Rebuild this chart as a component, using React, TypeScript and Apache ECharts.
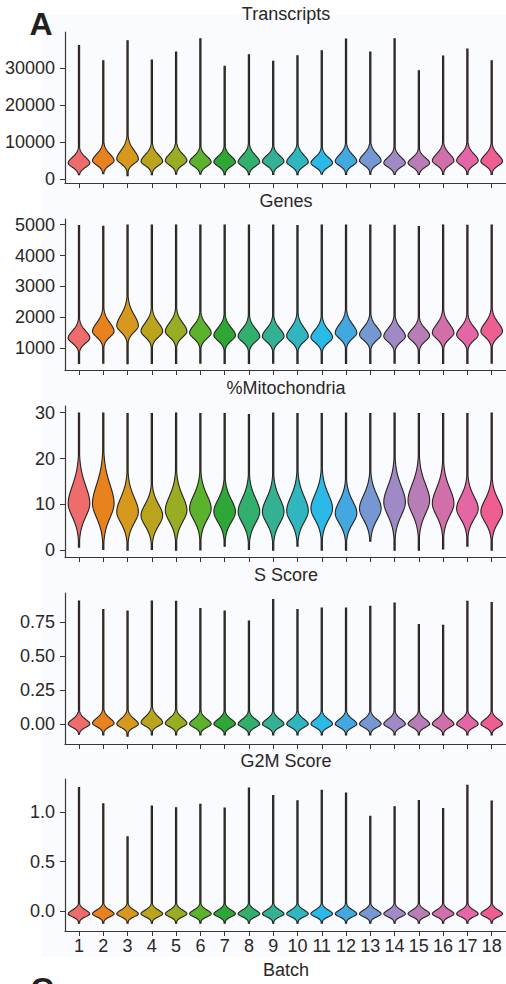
import React, { useEffect, useRef } from "react";
import * as echarts from "echarts";

const batches = [1, 2, 3, 4, 5, 6, 7, 8, 9, 10, 11, 12, 13, 14, 15, 16, 17, 18];
const batchColors = [
  "#EE6C6C", "#E8821E", "#D7991D", "#BBA41D", "#98AD23", "#5CB22D",
  "#2EA737", "#31AF6C", "#34B192", "#30B6BE", "#2BB9E8", "#43A7E0",
  "#7598D3", "#A08AC5", "#B97DB5", "#D06FAA", "#E566A4", "#EE5E93",
];

// Transcripts
const transcriptsMin = [1160, 1430, 890, 1160, 1300, 1300, 1160, 1160, 1200, 1150, 1300, 1250, 1300, 1200, 1200, 1200, 1200, 1250];
const transcriptsMode = [4320, 4950, 5400, 4760, 4950, 4590, 4590, 4590, 4760, 4590, 4320, 4760, 4950, 4320, 4320, 4950, 4950, 4760];
const transcriptsMax = [36100, 31970, 37380, 32160, 34320, 37920, 30430, 33600, 31780, 33320, 34680, 37840, 34320, 37920, 29270, 33240, 35130, 31970];
const transcriptsSpreadUp = [1620, 1890, 2430, 1890, 1890, 1620, 1620, 1890, 1620, 1890, 1620, 1890, 1890, 1620, 1490, 1890, 1890, 1890];
const transcriptsSpreadDown = [1200, 1250, 1300, 1200, 1250, 1200, 1200, 1200, 1200, 1200, 1150, 1200, 1200, 1150, 1150, 1250, 1250, 1200];
const transcriptsTicks = [0, 10000, 20000, 30000];

// Genes
const genesMin = [500, 510, 490, 500, 500, 505, 495, 500, 505, 500, 500, 495, 500, 505, 500, 495, 500, 505];
const genesMode = [1325, 1540, 1720, 1540, 1540, 1490, 1410, 1380, 1380, 1380, 1345, 1490, 1430, 1380, 1400, 1490, 1430, 1540];
const genesMax = [4970, 4950, 4990, 4990, 4990, 4990, 4990, 4990, 4990, 4970, 4990, 4990, 4990, 4980, 4940, 4990, 4980, 4990];
const genesSpreadUp = [240, 290, 370, 290, 290, 260, 260, 260, 260, 290, 260, 290, 260, 260, 230, 290, 260, 290];
const genesSpreadDown = [175, 195, 210, 195, 195, 190, 185, 185, 185, 185, 180, 190, 185, 185, 185, 195, 190, 195];
const genesTicks = [1000, 2000, 3000, 4000, 5000];

// %Mitochondria
const mitoMin = [0.7, 0.2, 0.0, 0.2, 0.0, 0.1, 0.9, 0.2, 0.0, 0.9, 0.0, 0.0, 2.0, 0.0, 0.0, 0.3, 0.9, 0.0];
const mitoMode = [10.2, 10.2, 8.4, 7.6, 8.7, 9.1, 8.4, 8.4, 8.4, 8.6, 9.1, 8.1, 9.1, 10.5, 10.9, 10.2, 9.1, 8.4];
const mitoMax = [29.9, 29.9, 29.8, 29.8, 29.9, 29.8, 29.8, 29.6, 29.9, 29.8, 29.8, 29.9, 29.8, 29.9, 29.8, 29.8, 29.8, 29.9];
const mitoSpreadUp = [4.1, 4.4, 3.3, 2.6, 3.3, 3.1, 2.8, 3.1, 3.1, 3.3, 3.3, 2.8, 3.1, 3.7, 3.7, 3.5, 2.8, 2.8];
const mitoSpreadDown = [3.1, 3.3, 2.6, 2.4, 2.6, 2.6, 2.4, 2.6, 2.6, 2.6, 2.6, 2.4, 2.6, 3.1, 3.1, 2.8, 2.4, 2.4];
const mitoTicks = [0, 10, 20, 30];

// S Score
const sMin = [-0.075, -0.08, -0.09, -0.08, -0.08, -0.08, -0.08, -0.08, -0.08, -0.08, -0.08, -0.08, -0.08, -0.08, -0.08, -0.08, -0.08, -0.08];
const sMode = [0.0, 0.005, 0.0, 0.01, 0.005, 0.0, 0.0, 0.0, 0.0, 0.0, 0.0, 0.0, 0.0, 0.0, 0.0, 0.0, 0.0, 0.0];
const sMax = [0.904, 0.841, 0.831, 0.904, 0.902, 0.849, 0.831, 0.757, 0.915, 0.841, 0.853, 0.853, 0.865, 0.89, 0.731, 0.726, 0.902, 0.893];
const sSpreadUp = [0.037, 0.04, 0.04, 0.045, 0.04, 0.038, 0.037, 0.037, 0.037, 0.037, 0.037, 0.037, 0.037, 0.037, 0.037, 0.037, 0.037, 0.037];
const sSpreadDown = [0.026, 0.026, 0.026, 0.026, 0.026, 0.026, 0.026, 0.026, 0.026, 0.026, 0.026, 0.026, 0.026, 0.026, 0.026, 0.026, 0.026, 0.026];
const sTicks = [0, 0.25, 0.5, 0.75];

// G2M Score
const g2mMin = [-0.125, -0.125, -0.125, -0.125, -0.125, -0.125, -0.125, -0.125, -0.125, -0.125, -0.125, -0.125, -0.125, -0.125, -0.125, -0.125, -0.125, -0.125];
const g2mMode = [-0.03, -0.03, -0.03, -0.03, -0.03, -0.03, -0.03, -0.03, -0.03, -0.03, -0.03, -0.03, -0.03, -0.03, -0.03, -0.03, -0.03, -0.03];
const g2mMax = [1.252, 1.089, 0.752, 1.064, 1.048, 1.082, 1.044, 1.248, 1.173, 1.119, 1.224, 1.197, 0.962, 1.058, 1.122, 1.041, 1.276, 1.115];
const g2mSpreadUp = [0.041, 0.041, 0.041, 0.041, 0.041, 0.041, 0.041, 0.041, 0.041, 0.041, 0.041, 0.041, 0.041, 0.041, 0.041, 0.041, 0.041, 0.041];
const g2mSpreadDown = [0.031, 0.031, 0.031, 0.031, 0.031, 0.031, 0.031, 0.031, 0.031, 0.031, 0.031, 0.031, 0.031, 0.031, 0.031, 0.031, 0.031, 0.031];
const g2mTicks = [0, 0.5, 1.0];

const FONT = "Liberation Sans";
const TEXT = "#2b2724";
const AXIS = "#3a3631";
const OUTLINE = "#26221e";
const HALF_W = 10.8;

type Panel = {
  title: string;
  min: number[]; mode: number[]; max: number[]; up: number[]; down: number[];
  ticks: number[]; yMin: number; yMax: number; top: number; height: number;
  fmt: (v: number) => string;
};

const panels: Panel[] = [
  { title: "Transcripts", min: transcriptsMin, mode: transcriptsMode, max: transcriptsMax, up: transcriptsSpreadUp, down: transcriptsSpreadDown, ticks: transcriptsTicks, yMin: -1080, yMax: 39730, top: 32, height: 151, fmt: (v) => String(v) },
  { title: "Genes", min: genesMin, mode: genesMode, max: genesMax, up: genesSpreadUp, down: genesSpreadDown, ticks: genesTicks, yMin: 286, yMax: 5185, top: 219, height: 151, fmt: (v) => String(v) },
  { title: "%Mitochondria", min: mitoMin, mode: mitoMode, max: mitoMax, up: mitoSpreadUp, down: mitoSpreadDown, ticks: mitoTicks, yMin: -1.46, yMax: 31.46, top: 406, height: 151, fmt: (v) => String(v) },
  { title: "S Score", min: sMin, mode: sMode, max: sMax, up: sSpreadUp, down: sSpreadDown, ticks: sTicks, yMin: -0.147, yMax: 0.963, top: 593, height: 151, fmt: (v) => v.toFixed(2) },
  { title: "G2M Score", min: g2mMin, mode: g2mMode, max: g2mMax, up: g2mSpreadUp, down: g2mSpreadDown, ticks: g2mTicks, yMin: -0.204, yMax: 1.34, top: 779, height: 152, fmt: (v) => v.toFixed(1) },
];

function renderViolin(params: any, api: any) {
  const x = api.value(0);
  const lo = api.value(1);
  const mode = api.value(2);
  const hi = api.value(3);
  const sd = api.value(4);
  const su = api.value(5);
  const pLo = api.coord([x, lo]);
  const pHi = api.coord([x, hi]);
  const cx = pLo[0];
  const yTop = pHi[1];
  const yBot = pLo[1];
  const pxPerUnit = (yBot - yTop) / (hi - lo);
  const n = Math.max(2, Math.ceil((yBot - yTop) / 0.6));
  const right: number[][] = [];
  const left: number[][] = [];
  for (let i = 0; i <= n; i++) {
    const y = yTop + ((yBot - yTop) * i) / n;
    const v = hi - (y - yTop) / pxPerUnit;
    const d = v - mode;
    const u = d / (d >= 0 ? su : sd);
    const f = 0.8 * Math.exp(-0.5 * u * u) + 0.2 / (1 + u * u);
    const hw = Math.max(HALF_W * f, 0.6);
    right.push([cx + hw, y]);
    left.push([cx - hw, y]);
  }
  const points = right.concat(left.reverse());
  return {
    type: "polygon",
    shape: { points },
    style: { fill: batchColors[params.dataIndex], stroke: OUTLINE, lineWidth: 1.1 },
  };
}

export default function App() {
  const ref = useRef<HTMLDivElement>(null);
  useEffect(() => {
    if (!ref.current) return;
    const chart = echarts.init(ref.current, null, { renderer: "svg" });
    const grids: any[] = [];
    const xAxes: any[] = [];
    const yAxes: any[] = [];
    const series: any[] = [];
    const graphics: any[] = [
      { type: "rect", z: -100, silent: true, shape: { x: 41, y: 15, width: 465, height: 942 }, style: { fill: "#f9fbfe" } },
      { type: "text", x: 41, y: 24, style: { text: "A", fontSize: 32, fontWeight: "bold", fontFamily: FONT, fill: "#231f1c", align: "center", verticalAlign: "middle" } },
      { type: "text", x: 42, y: 989, style: { text: "C", fontSize: 32, fontWeight: "bold", fontFamily: FONT, fill: "#231f1c", align: "center", verticalAlign: "middle" } },
      { type: "text", x: 286, y: 970, style: { text: "Batch", fontSize: 18, fontFamily: FONT, fill: TEXT, align: "center", verticalAlign: "middle" } },
    ];
    panels.forEach((p, i) => {
      const last = i === panels.length - 1;
      grids.push({ left: 65, width: 441, top: p.top, height: p.height });
      xAxes.push({
        type: "value", gridIndex: i, min: 0.423, max: 18.59,
        axisLine: { show: true, onZero: false, lineStyle: { color: AXIS, width: 1.2 } },
        axisTick: { show: true, length: 5, customValues: batches, lineStyle: { color: AXIS, width: 1 } },
        axisLabel: { show: last, customValues: batches, fontSize: 18, fontFamily: FONT, color: TEXT, margin: 6 },
        splitLine: { show: false },
      });
      yAxes.push({
        type: "value", gridIndex: i, min: p.yMin, max: p.yMax,
        axisLine: { show: true, onZero: false, lineStyle: { color: AXIS, width: 1.2 } },
        axisTick: { show: true, length: 5, customValues: p.ticks, lineStyle: { color: AXIS, width: 1 } },
        axisLabel: { customValues: p.ticks, fontSize: 18, fontFamily: FONT, color: TEXT, margin: 10, formatter: (v: number) => p.fmt(v) },
        splitLine: { show: false },
      });
      series.push({
        type: "custom", xAxisIndex: i, yAxisIndex: i,
        renderItem: renderViolin,
        encode: { x: 0, y: [1, 3] },
        data: batches.map((b, k) => [b, p.min[k], p.mode[k], p.max[k], p.down[k], p.up[k]]),
        z: 3,
      });
      graphics.push({
        type: "text", x: 286, y: p.top - 18,
        style: { text: p.title, fontSize: 18, fontFamily: FONT, fill: TEXT, align: "center", verticalAlign: "middle" },
      });
    });
    chart.setOption({
      animation: false,
      backgroundColor: "#ffffff",
      textStyle: { fontFamily: FONT, fontSize: 18, color: TEXT },
      grid: grids,
      xAxis: xAxes,
      yAxis: yAxes,
      series,
      graphic: graphics,
    });
    return () => chart.dispose();
  }, []);
  return <div ref={ref} style={{ position: "absolute", left: 0, top: 0, width: 506, height: 984 }} />;
}
